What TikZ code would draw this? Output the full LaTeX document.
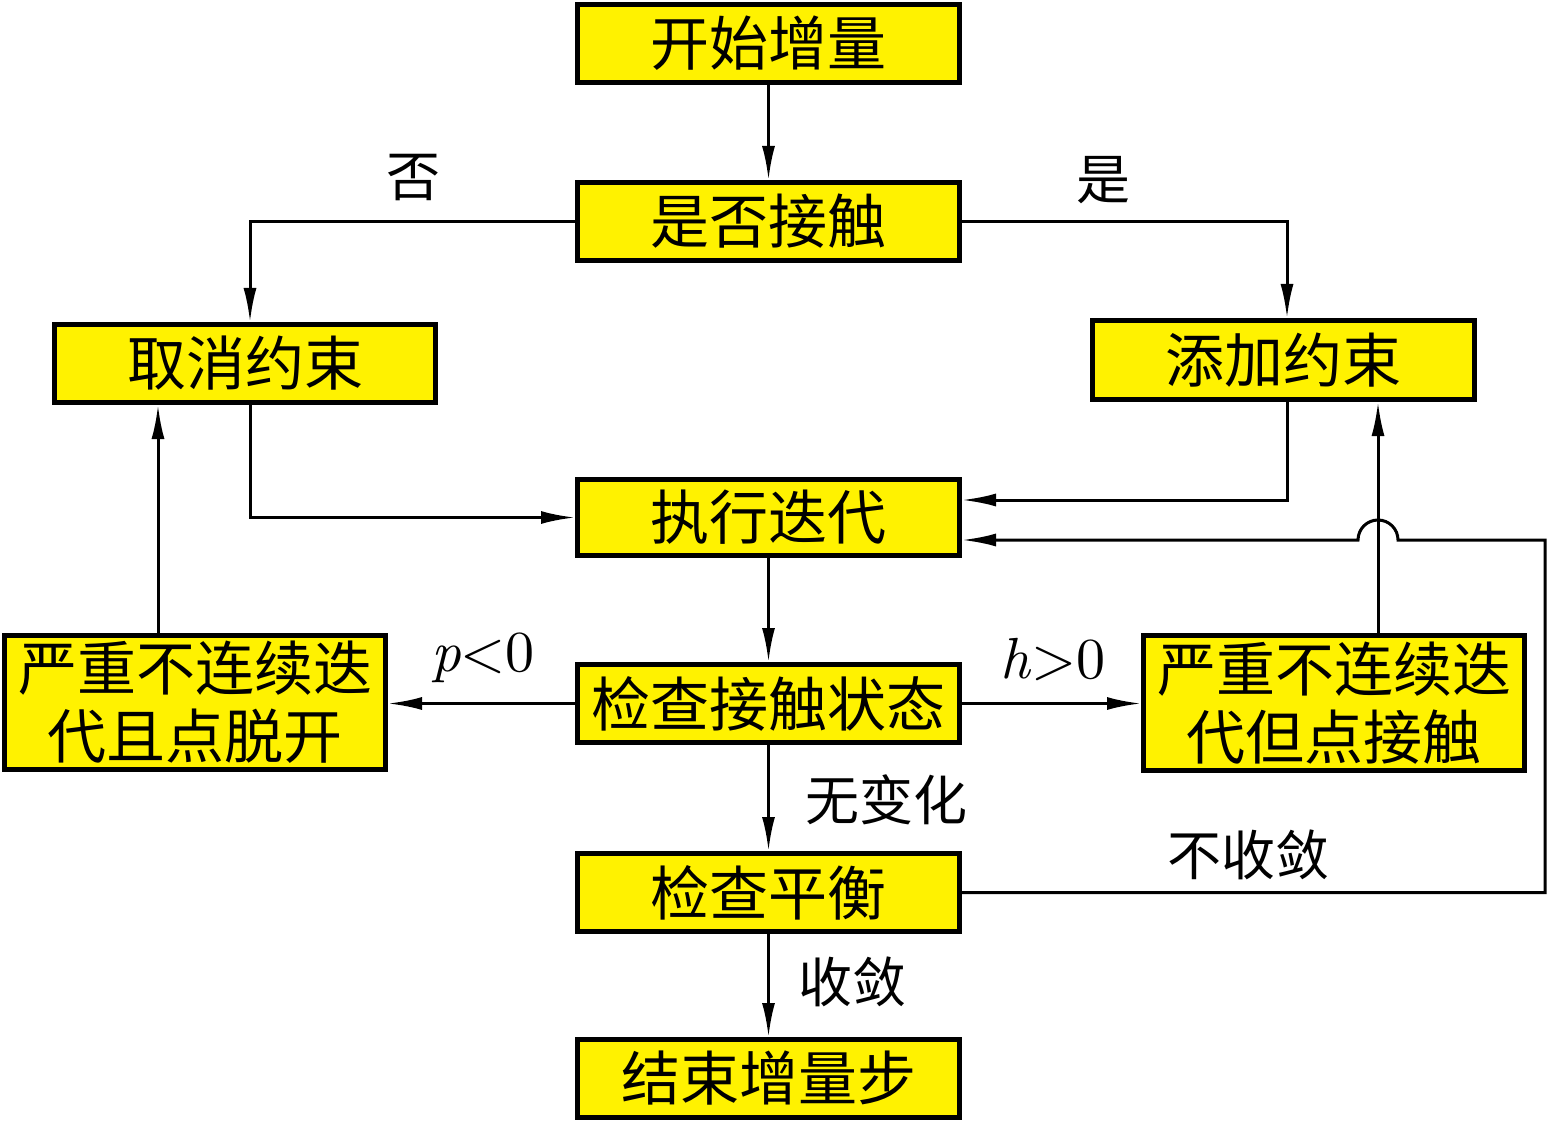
\documentclass[tikz,border=0pt]{standalone}
\usepackage{fontspec}
\setmainfont{Noto Sans CJK SC}
\newfontfamily\lmfont{lmroman10-regular.otf}[ItalicFont=lmroman10-italic.otf]
\usetikzlibrary{arrows.meta}
\begin{document}
\begin{tikzpicture}[x=1pt,y=-1pt,
  box/.style={draw=black,line width=5pt,fill=yellow,inner sep=0pt,
    minimum width=382pt,minimum height=78pt,align=center,
    font=\fontsize{59pt}{68pt}\selectfont},
  lbl/.style={inner sep=0pt,font=\fontsize{54pt}{60pt}\selectfont},
  conn/.style={line width=3pt,-{Latex[length=34pt,width=13pt]}},
  plain/.style={line width=3pt}]
\useasboundingbox (0,0) rectangle (1547,1123);
\fill[white] (0,0) rectangle (1547,1123);
\node[box] (s1) at (768.5,43.5) {开始增量};
\node[box] (s2) at (768.5,221.5) {是否接触};
\node[box,minimum width=381pt] (cancel) at (245,363.5) {取消约束};
\node[box,minimum height=79pt] (add) at (1283.5,360) {添加约束};
\node[box,minimum height=76pt] (iter) at (768.5,517.5) {执行迭代};
\node[box] (check) at (768.5,703.5) {检查接触状态};
\node[box,minimum width=381pt,minimum height=134pt] (sepL) at (195,702.5) {严重不连续迭\\代且点脱开};
\node[box,minimum width=381pt,minimum height=135pt] (sepR) at (1334,703) {严重不连续迭\\代但点接触};
\node[box] (eq) at (768.5,892.5) {检查平衡};
\node[box] (fin) at (768.5,1078.5) {结束增量步};

\node[lbl] (no) at (413,178) {否};
\node[lbl] (yes) at (1103,180) {是};
\node[lbl,font=\lmfont\fontsize{58pt}{60pt}\selectfont] (pl) at (483,658) {\textit{p}<0};
\node[lbl,font=\lmfont\fontsize{58pt}{60pt}\selectfont] (hg) at (1053,660) {\textit{h}>0};
\node[lbl] (nc) at (886,800) {无变化};
\node[lbl] (nconv) at (1248,855) {不收敛};
\node[lbl] (conv) at (852,982) {收敛};

\coordinate (iterR1) at ([yshift=17.5pt]iter.east);
\coordinate (iterR2) at ([yshift=-22.5pt]iter.east);
\coordinate (sepLt) at ([xshift=-37pt]sepL.north);
\coordinate (sepRt) at ([xshift=44pt]sepR.north);
\coordinate (fb1) at (1545,892.5);
\coordinate (fb2) at (1545,540);
\coordinate (hopR) at (1398,540);

\draw[conn] (s1) -- (s2);
\draw[conn] (s2.west) -| ([xshift=5pt]cancel.north);
\draw[conn] (s2.east) -| ([xshift=3.5pt]add.north);
\draw[conn] ([xshift=5pt]cancel.south) |- (iter.west);
\draw[conn] ([xshift=3.5pt]add.south) |- (iterR1);
\draw[conn] (iter) -- (check);
\draw[conn] (check.west) -- (check.west -| sepL.east);
\draw[conn] (check.east) -- (check.east -| sepR.west);
\draw[conn] (sepLt) -- (sepLt |- cancel.south);
\draw[conn] (sepRt) -- (sepRt |- add.south);
\draw[conn] (check) -- (eq);
\draw[conn] (eq) -- (fin);
\draw[conn] (eq.east) -- (fb1) -- (fb2) -- (hopR) arc[start angle=0,end angle=180,radius=20pt] -- (iterR2);
\end{tikzpicture}
\end{document}
